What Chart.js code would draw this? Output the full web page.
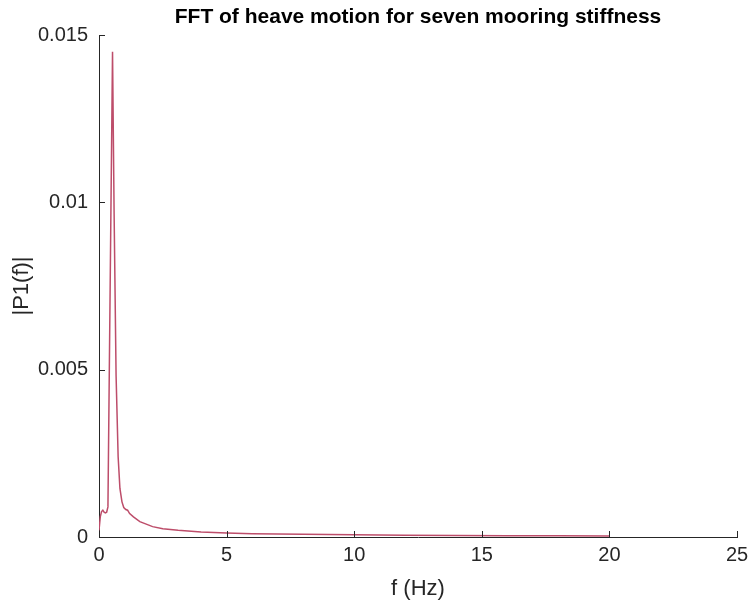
<!DOCTYPE html>
<html>
<head>
<meta charset="utf-8">
<script src="https://cdn.jsdelivr.net/npm/chart.js@4.4.0/dist/chart.umd.min.js"></script>
<style>
  html, body { margin: 0; padding: 0; background: #fff; }
  #wrap { width: 749px; height: 602px; }
</style>
</head>
<body>
<div id="wrap"><canvas id="fftChart" width="749" height="602"></canvas></div>
<script>
const chartTitle = 'FFT of heave motion for seven mooring stiffness';
const xLabel = 'f (Hz)';
const yLabel = '|P1(f)|';

// frequency (Hz) and single-sided amplitude
const freq = [0, 0.05, 0.1, 0.15, 0.2, 0.25, 0.3, 0.35, 0.53, 0.59, 0.67, 0.75, 0.82, 0.9, 0.97,
  1.05, 1.12, 1.2, 1.35, 1.6, 1.8, 2.1, 2.5, 3.1, 4, 5, 6, 7, 8, 10, 12, 14, 16, 18, 20];
const amp = [0.0002, 0.0006, 0.00076, 0.0008, 0.00074, 0.00072, 0.00074, 0.0009, 0.0145, 0.0098, 0.0048, 0.0024, 0.00145, 0.00105, 0.00088,
  0.00082, 0.0008, 0.0007, 0.0006, 0.00046, 0.0004, 0.00031, 0.00025, 0.0002, 0.00015, 0.00012, 0.0001, 0.00009, 0.00008, 0.000065, 0.000055, 0.000045, 0.00004, 0.000035, 0.00003];

const xTicks = [0, 5, 10, 15, 20, 25];
const xTickLabels = ['0', '5', '10', '15', '20', '25'];
const yTicks = [0, 0.005, 0.01, 0.015];
const yTickLabels = ['0', '0.005', '0.01', '0.015'];

const axisColor = '#262626';
const lineColor = '#bd4d6a';
const fontFamily = '"Liberation Sans", Arial, Helvetica, sans-serif';

// MATLAB style: tick marks pointing into the axes
const inwardTicks = {
    id: 'inwardTicks',
    afterDatasetsDraw(chart) {
        const { ctx, chartArea: a, scales: { x, y } } = chart;
        ctx.save();
        ctx.strokeStyle = axisColor;
        ctx.lineWidth = 1;
        ctx.beginPath();
        x.ticks.forEach(t => {
            const px = Math.round(x.getPixelForValue(t.value)) + 0.5;
            ctx.moveTo(px, a.bottom); ctx.lineTo(px, a.bottom - 6);
        });
        y.ticks.forEach(t => {
            const py = Math.round(y.getPixelForValue(t.value)) + 0.5;
            ctx.moveTo(a.left, py); ctx.lineTo(a.left + 6, py);
        });
        ctx.stroke();
        ctx.restore();
    }
};

new Chart(document.getElementById('fftChart'), {
    type: 'line',
    data: {
        datasets: [{
            data: freq.map((f, i) => ({ x: f, y: amp[i] })),
            borderColor: lineColor,
            borderWidth: 1.5,
            pointRadius: 0,
            tension: 0,
            fill: false
        }]
    },
    options: {
        responsive: false,
        animation: false,
        devicePixelRatio: 1,
        layout: { padding: { left: 0, right: 12, top: 0, bottom: 0 } },
        plugins: {
            legend: { display: false },
            tooltip: { enabled: false },
            title: {
                display: true,
                fullSize: false,
                text: chartTitle,
                color: '#000',
                font: { family: fontFamily, size: 21, weight: 'bold', lineHeight: 1.2 },
                padding: { top: 5, bottom: 4.8 }
            }
        },
        scales: {
            x: {
                type: 'linear',
                min: 0, max: 25,
                afterBuildTicks: s => { s.ticks = xTicks.map(v => ({ value: v })); },
                afterFit: s => { s.height = 65; s.paddingLeft = 0; s.paddingRight = 0; },
                grid: { display: false, tickLength: 0 },
                border: { display: true, color: axisColor, width: 1 },
                ticks: {
                    color: axisColor, padding: 6, maxRotation: 0,
                    font: { family: fontFamily, size: 20 },
                    callback: (v, i) => xTickLabels[i]
                },
                title: {
                    display: true, text: xLabel, color: axisColor,
                    font: { family: fontFamily, size: 22 },
                    padding: { top: 0, bottom: 0 }
                }
            },
            y: {
                min: 0, max: 0.015,
                afterBuildTicks: s => { s.ticks = yTicks.map(v => ({ value: v })); },
                afterFit: s => { s.width = 99; s.paddingTop = 0; s.paddingBottom = 0; },
                grid: { display: false, tickLength: 0 },
                border: { display: true, color: axisColor, width: 1 },
                ticks: {
                    color: axisColor, padding: 11,
                    font: { family: fontFamily, size: 20 },
                    callback: (v, i) => yTickLabels[i]
                },
                title: {
                    display: true, text: yLabel, color: axisColor,
                    font: { family: fontFamily, size: 22 },
                    padding: { top: 9, bottom: 0 }
                }
            }
        }
    },
    plugins: [inwardTicks]
});
</script>
</body>
</html>
